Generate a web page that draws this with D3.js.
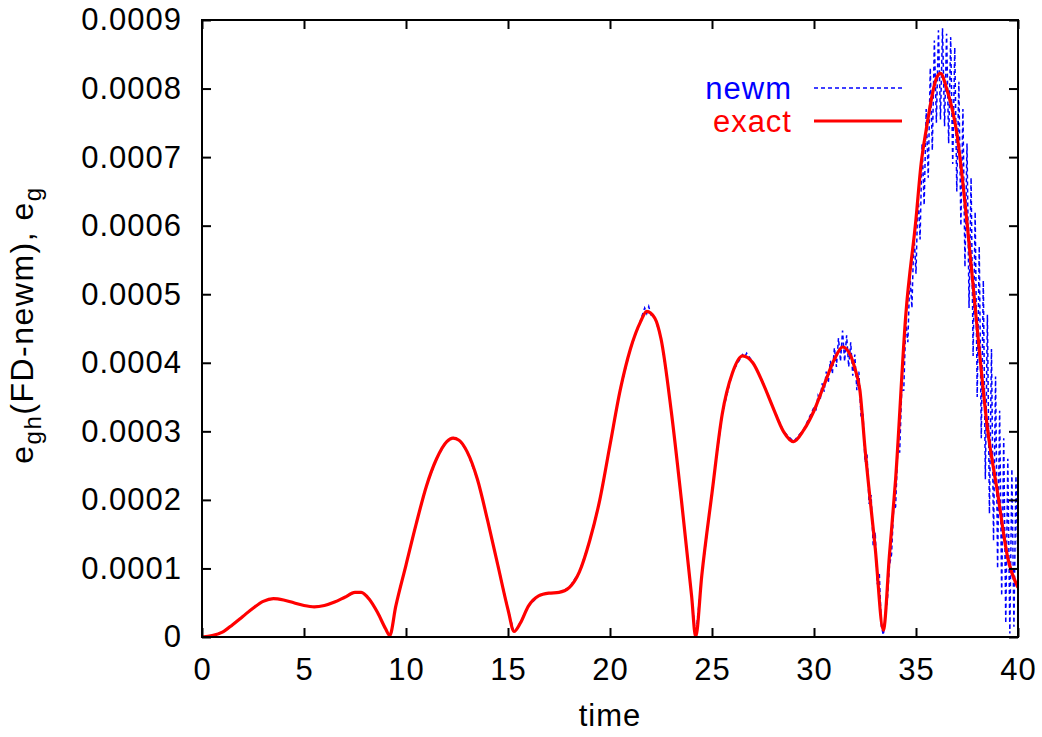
<!DOCTYPE html>
<html>
<head>
<meta charset="utf-8">
<script src="https://cdn.jsdelivr.net/npm/d3@7"></script>
<style>
  html, body { margin: 0; padding: 0; background: #fff; }
  svg { display: block; }
  text { font-family: "Liberation Sans", Arial, Helvetica, sans-serif; }
</style>
</head>
<body>
<svg id="chart" width="1042" height="737"></svg>
<script>
// ---- data (values in units of 1e-4) ----
const xTicks = [0, 5, 10, 15, 20, 25, 30, 35, 40];
const yTicks = [0, 1, 2, 3, 4, 5, 6, 7, 8, 9];
const yTickLabels = ["0", "0.0001", "0.0002", "0.0003", "0.0004", "0.0005", "0.0006", "0.0007", "0.0008", "0.0009"];

const exactTime = [0,0.5,1,1.5,2,2.5,3,3.5,4,4.5,5,5.5,6,6.5,7,7.5,7.8,8.2,8.6,9,9.2,9.5,10,10.5,11,11.5,12,12.3,12.6,13,13.5,14,14.5,15,15.3,15.6,16,16.5,17,17.5,18,18.5,19,19.5,20,20.5,21,21.5,21.8,22.2,22.5,23,23.5,24,24.2,24.5,25,25.5,26,26.5,27,27.5,28,28.5,29,29.5,30,30.5,31,31.4,31.8,32,32.25,32.5,33,33.4,33.7,34,34.5,35,35.25,35.5,36,36.2,36.5,37,37.5,38,38.5,39,39.5,40];
const exactValue = [0,0.02,0.07,0.18,0.30,0.42,0.52,0.56,0.54,0.50,0.46,0.44,0.46,0.51,0.58,0.65,0.65,0.55,0.36,0.12,0.02,0.45,1.05,1.65,2.2,2.6,2.85,2.9,2.87,2.7,2.3,1.7,1.05,0.4,0.08,0.2,0.45,0.6,0.64,0.65,0.72,0.95,1.4,2.0,2.8,3.6,4.2,4.6,4.75,4.65,4.35,3.3,2.0,0.6,0.0,0.9,2.1,3.25,3.85,4.1,4.0,3.7,3.34,3.0,2.85,3.02,3.3,3.68,4.05,4.23,4.1,3.92,3.6,2.75,1.3,0.1,1.2,2.3,4.7,6.1,6.9,7.4,8.15,8.22,8.0,7.35,6.05,4.5,3.05,2.1,1.15,0.72];

const newmTime = [0,0.5,1,1.5,2,2.5,3,3.5,4,4.5,5,5.5,6,6.5,7,7.5,7.8,8.2,8.6,9,9.25,9.5,10,10.5,11,11.5,12,12.3,12.6,13,13.5,14,14.5,15,15.3,15.6,16,16.5,17,17.5,18,18.5,19,19.5,20,20.5,21,21.5,21.7,21.8,21.9,22.0,22.2,22.5,23,23.5,24,24.2,24.5,25,25.5,26,26.5,26.6,26.7,27,27.5,28,28.5,29,29.5,
  30.0,30.1,30.2,30.3,30.4,30.5,30.6,30.7,30.8,30.9,31.0,31.1,31.2,31.3,31.4,31.5,31.6,31.7,31.8,31.9,
  32.0,32.1,32.2,32.3,32.4,32.5,32.6,32.7,32.8,32.9,33.0,33.1,33.2,33.3,33.4,33.5,33.6,33.7,33.8,33.9,
  34.0,34.1,34.2,34.3,34.4,34.5,34.6,34.7,34.8,34.9,35.0,35.1,35.2,35.3,35.4,35.5,35.6,35.7,35.8,35.9,
  36.0,36.1,36.2,36.3,36.4,36.5,36.6,36.7,36.8,36.9,37.0,37.1,37.2,37.3,37.4,37.5,37.6,37.7,37.8,37.9,
  38.0,38.1,38.2,38.3,38.4,38.5,38.6,38.7,38.8,38.9,39.0,39.1,39.2,39.3,39.4,39.5,39.6,39.7,39.8,39.9,40.0];
const newmValue = [0,0.02,0.07,0.18,0.30,0.42,0.52,0.56,0.54,0.50,0.46,0.44,0.46,0.51,0.58,0.65,0.66,0.56,0.37,0.12,0.0,0.46,1.06,1.66,2.2,2.6,2.86,2.91,2.88,2.7,2.3,1.71,1.06,0.41,0.06,0.21,0.45,0.6,0.64,0.65,0.72,0.95,1.4,2.0,2.8,3.6,4.2,4.62,4.80,4.72,4.82,4.70,4.66,4.36,3.31,2.01,0.6,0.0,0.9,2.1,3.25,3.86,4.12,4.08,4.14,4.01,3.71,3.35,3.0,2.85,3.03,
  3.35,3.32,3.52,3.45,3.70,3.58,3.87,3.71,4.03,3.84,4.22,3.94,4.36,4.02,4.47,4.02,4.40,3.94,4.30,3.81,
  4.12,3.60,3.87,3.24,3.28,2.55,2.66,1.94,2.07,1.33,1.53,0.77,0.94,0.16,0.03,0.30,0.55,1.05,1.20,1.85,
  1.90,2.70,2.70,3.60,3.60,4.60,4.30,5.30,4.80,5.90,5.30,6.50,5.80,7.20,6.30,7.70,6.70,8.30,7.10,8.70,
  7.50,8.85,7.55,8.88,7.45,8.80,7.20,8.75,6.90,8.60,6.50,8.10,6.00,7.70,5.40,7.20,4.80,6.70,4.10,6.20,
  3.50,5.70,2.90,5.20,2.30,4.70,1.80,4.20,1.40,3.80,1.00,3.30,0.60,2.90,0.20,2.60,0.05,2.45,0.15,2.35,1.00];

const seriesNames = ["newm", "exact"];
const seriesColors = ["#0000ff", "#ff0000"];

// ---- layout ----
const L = 202, R = 1018, T = 20, B = 637;
const svg = d3.select("#chart");
const x = d3.scaleLinear().domain([0, 40]).range([L, R]);
const y = d3.scaleLinear().domain([0, 9]).range([B, T]);
const FS = 31;

const exactData = exactTime.map((t, i) => [t, exactValue[i]]);
const newmData = newmTime.map((t, i) => [t, newmValue[i]]);

svg.append("defs").append("clipPath").attr("id", "clip")
  .append("rect").attr("x", L).attr("y", T - 2).attr("width", R - L).attr("height", B - T + 2);

const plot = svg.append("g").attr("clip-path", "url(#clip)");

plot.append("path").datum(newmData)
  .attr("fill", "none").attr("stroke", seriesColors[0]).attr("stroke-width", 1.5)
  .attr("stroke-dasharray", "4,3")
  .attr("d", d3.line().x(d => x(d[0])).y(d => y(d[1])).curve(d3.curveLinear));

plot.append("path").datum(exactData)
  .attr("fill", "none").attr("stroke", seriesColors[1]).attr("stroke-width", 3.2)
  .attr("stroke-linejoin", "round")
  .attr("d", d3.line().x(d => x(d[0])).y(d => y(d[1])).curve(d3.curveMonotoneX));

// ---- axes ----
function styleAxis(g) {
  g.select(".domain").remove();
  g.selectAll(".tick line").attr("stroke", "#000").attr("stroke-width", 2);
  g.selectAll(".tick text").attr("fill", "#000").style("font-size", FS + "px")
    .style("letter-spacing", "1px")
    .style("font-family", '"Liberation Sans", Arial, sans-serif');
}
svg.append("g").attr("transform", `translate(0,${B})`)
  .call(d3.axisBottom(x).tickValues(xTicks).tickSize(-9).tickPadding(21).tickFormat(d3.format("d")))
  .call(styleAxis);
svg.append("g").attr("transform", `translate(0,${T})`)
  .call(d3.axisTop(x).tickValues(xTicks).tickSize(-9).tickFormat(""))
  .call(styleAxis);
svg.append("g").attr("transform", `translate(${L},0)`)
  .call(d3.axisLeft(y).tickValues(yTicks).tickSize(-9).tickPadding(20).tickFormat((d, i) => yTickLabels[i]))
  .call(styleAxis);
svg.append("g").attr("transform", `translate(${R},0)`)
  .call(d3.axisRight(y).tickValues(yTicks).tickSize(-9).tickFormat(""))
  .call(styleAxis);

svg.append("rect").attr("x", L).attr("y", T).attr("width", R - L).attr("height", B - T)
  .attr("fill", "none").attr("stroke", "#000").attr("stroke-width", 2);

// ---- axis titles ----
svg.append("text").attr("x", (L + R) / 2).attr("y", 726).attr("text-anchor", "middle")
  .style("font-size", FS + "px").style("letter-spacing", "1px").text("time");

const yl = svg.append("text").attr("transform", "translate(33,325) rotate(-90)")
  .attr("text-anchor", "middle").style("font-size", "32px").style("letter-spacing", "1.5px");
yl.append("tspan").text("e");
yl.append("tspan").attr("dy", 8).style("font-size", "24px").text("gh");
yl.append("tspan").attr("dy", -8).text("(FD-newm), e");
yl.append("tspan").attr("dy", 8).style("font-size", "24px").text("g");

// ---- legend ----
const legend = svg.append("g");
const legY = [99, 132];
const legLineY = [88, 121];
seriesNames.forEach((name, i) => {
  legend.append("text").attr("x", 792).attr("y", legY[i]).attr("text-anchor", "end")
    .attr("fill", seriesColors[i]).style("font-size", FS + "px").style("letter-spacing", "1px").text(name);
  legend.append("line").attr("x1", 814).attr("x2", 902).attr("y1", legLineY[i]).attr("y2", legLineY[i])
    .attr("stroke", seriesColors[i])
    .attr("stroke-width", i === 0 ? 1.5 : 3.2)
    .attr("stroke-dasharray", i === 0 ? "4,3" : null);
});
</script>
</body>
</html>
